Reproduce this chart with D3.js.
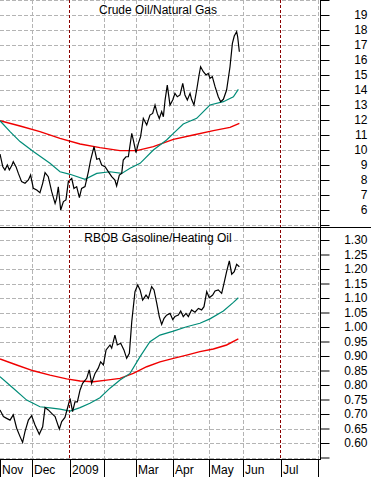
<!DOCTYPE html>
<html>
<head>
<meta charset="utf-8">
<script src="https://cdn.jsdelivr.net/npm/d3@7"></script>
<style>
body { margin: 0; background: #fff; }
svg { display: block; font-family: Arial, "Liberation Sans", sans-serif; }
</style>
</head>
<body>
<script>
// x is counted in trading days from the start of Nov 2008
var monthStarts = [0, 19, 41, 61, 80, 102, 123, 143, 165, 187];
var monthLabels = ["Nov", "Dec", "2009", "", "Mar", "Apr", "May", "Jun", "Jul", ""];
var markerDays = [41, 165];

var topTicks = [6, 7, 8, 9, 10, 11, 12, 13, 14, 15, 16, 17, 18, 19];
var bottomTicks = [0.60, 0.65, 0.70, 0.75, 0.80, 0.85, 0.90, 0.95, 1.00, 1.05, 1.10, 1.15, 1.20, 1.25, 1.30];

var crudeNatgas = [
    [0, 9.73], [1.6, 8.9], [2.9, 8.67], [4.3, 9.0], [5.5, 8.67], [6.9, 8.96], [7.8, 9.22],
    [9.4, 8.89], [10.8, 8.44], [12.7, 7.89], [14.7, 7.78], [16.7, 8.0], [18, 8.33],
    [19.6, 7.44], [21.6, 7.33], [23.5, 7.15], [25.1, 7.78], [26.5, 8.49], [28.4, 8.22],
    [30.4, 7.22], [32.4, 6.44], [33.3, 6.78], [34.3, 7.55], [35.7, 6.0], [37.3, 6.56],
    [38.8, 6.67], [40.2, 7.89], [42.2, 8.1], [43.5, 7.44], [45.1, 7.56], [46.7, 6.82],
    [48, 7.44], [50, 7.56], [52, 8.56], [53.3, 9.33], [55.3, 10.22], [56.9, 9.38],
    [58.4, 9.44], [59.8, 9.0], [61.8, 8.89], [63.7, 8.56], [65.7, 8.22], [67.6, 8.0],
    [68.6, 7.6], [70.2, 8.33], [71.6, 8.44], [72.5, 9.33], [74.1, 9.55], [75.5, 9.55],
    [77.5, 11.11], [78.4, 10.67], [80, 9.82], [81.4, 10.44], [82.7, 10.89], [84.3, 12.11],
    [86.3, 11.67], [88.2, 12.33], [89.8, 12.44], [91.2, 13.0], [92.5, 12.44], [93.7, 12.1],
    [95.1, 12.56], [96.1, 12.22], [97.1, 13.33], [98.4, 14.33], [100, 13.0], [101.6, 13.33],
    [102.9, 13.78], [104.3, 13.55], [105.9, 13.67], [107.5, 14.44], [108.8, 13.67],
    [110.2, 13.33], [111.8, 13.78], [112.7, 13.38], [114.1, 13.0], [115.7, 14.0],
    [117.1, 15.0], [118, 15.55], [119.6, 15.22], [121.2, 15.0], [122.5, 15.11],
    [123.5, 14.78], [124.9, 14.89], [126.5, 14.22], [128.4, 13.55], [129.8, 13.22],
    [131.4, 13.38], [133.3, 14.0], [135.3, 15.55], [136.7, 17.11], [137.8, 17.6],
    [139.2, 17.89], [139.8, 17.55], [140.8, 16.55]
];
var crudeNatgasAvgShort = [
    [0, 11.95], [5.9, 11.22], [11.8, 10.56], [19.6, 9.9], [29.4, 9.11], [35.3, 8.55],
    [41.2, 8.38], [50, 8.04], [56.9, 8.44], [64.7, 8.55], [71.6, 8.44], [76.5, 8.78],
    [82.4, 9.11], [90.2, 10.0], [98, 10.67], [102, 11.11], [107.8, 11.73], [115.7, 12.11],
    [123.5, 13.0], [131.4, 13.22], [137.3, 13.55], [140.2, 14.04]
];
var crudeNatgasAvgLong = [
    [0, 11.95], [11.8, 11.6], [23.5, 11.22], [35.3, 10.78], [47.1, 10.4], [58.8, 10.16],
    [70.6, 9.96], [80.4, 9.96], [90.2, 10.22], [102, 10.71], [113.7, 11.0], [125.5, 11.29],
    [135.3, 11.51], [140.8, 11.78]
];

var rbobHo = [
    [0, 0.714], [2, 0.691], [3.9, 0.685], [5.9, 0.679], [7.8, 0.697], [9.8, 0.651],
    [11.8, 0.622], [13.3, 0.602], [14.7, 0.639], [16.7, 0.679], [18.6, 0.694], [20.6, 0.662],
    [23.1, 0.630], [25.1, 0.656], [26.5, 0.722], [28.4, 0.714], [30.4, 0.702], [32.4, 0.691],
    [34.9, 0.648], [36.3, 0.674], [38.2, 0.688], [40.2, 0.731], [41.2, 0.754], [42.7, 0.708],
    [44.1, 0.742], [45.5, 0.742], [47.1, 0.783], [48.6, 0.806], [51, 0.823], [52.5, 0.852],
    [53.9, 0.806], [55.9, 0.840], [57.8, 0.858], [59.2, 0.880], [60.8, 0.869], [62.4, 0.921],
    [64.7, 0.938], [65.7, 0.927], [67.6, 0.972], [69, 0.938], [71, 0.944], [72.9, 0.921],
    [74.5, 0.892], [76.1, 0.909], [77.5, 1.018], [79.4, 1.122], [81, 1.145], [82.4, 1.128],
    [83.9, 1.093], [85.9, 1.110], [87.3, 1.099], [89.2, 1.139], [90.6, 1.128], [92.2, 1.082],
    [93.7, 1.036], [95.1, 1.009], [96.5, 1.030], [98, 1.041], [100, 1.047], [101.6, 1.026],
    [102.9, 1.036], [104.9, 1.041], [106.3, 1.055], [107.8, 1.036], [109.4, 1.047],
    [110.8, 1.036], [112.7, 1.059], [114.7, 1.051], [116.7, 1.064], [118.6, 1.059],
    [120, 1.070], [121.6, 1.122], [123.1, 1.101], [125.1, 1.110], [126.5, 1.124],
    [128.4, 1.128], [130.4, 1.116], [131.8, 1.151], [133.3, 1.191], [134.9, 1.228],
    [136.3, 1.182], [137.8, 1.191], [139.2, 1.216], [140.8, 1.208]
];
var rbobHoAvgShort = [
    [0, 0.829], [7.8, 0.789], [15.7, 0.748], [23.5, 0.725], [29.4, 0.721], [35.3, 0.717],
    [41.2, 0.710], [47.1, 0.722], [52.9, 0.737], [58.8, 0.756], [64.7, 0.789], [70.6, 0.817],
    [76.5, 0.840], [82.4, 0.898], [88.2, 0.949], [94.1, 0.972], [102, 0.986], [109.8, 1.001],
    [117.6, 1.013], [123.5, 1.028], [131.4, 1.055], [137.3, 1.085], [140.2, 1.101]
];
var rbobHoAvgLong = [
    [0, 0.890], [9.8, 0.869], [19.6, 0.849], [29.4, 0.834], [39.2, 0.821], [47.1, 0.814],
    [54.9, 0.811], [62.7, 0.817], [70.6, 0.823], [78.4, 0.840], [86.3, 0.863], [94.1, 0.880],
    [102, 0.892], [109.8, 0.903], [117.6, 0.915], [125.5, 0.924], [133.3, 0.938], [140.2, 0.959]
];

var width = 371, height = 477;
var plotRight = 320, split = 227, axisBottom = 459;

var svg = d3.select("body").append("svg")
    .attr("width", width)
    .attr("height", height);

var x = d3.scaleLinear().domain([0, 188]).range([0, 319.6]);
var yTop = d3.scaleLinear().domain([5, 20]).range([225, 0]);
var yBottom = d3.scaleLinear().domain([0.55, 1.35]).range([457.5, 225.5]);

// vertical month grid, both panels in one go
svg.append("g").selectAll("line")
    .data(monthStarts.slice(1).filter(function (d) { return markerDays.indexOf(d) < 0; }))
    .enter().append("line")
    .attr("x1", function (d) { return Math.round(x(d)) + 0.5; })
    .attr("x2", function (d) { return Math.round(x(d)) + 0.5; })
    .attr("y1", 0)
    .attr("y2", axisBottom)
    .attr("stroke", "#b4b4b4")
    .attr("stroke-dasharray", "4,2");

function drawPanel(y, gridValues, series, title, titleY) {
    var g = svg.append("g");
    g.selectAll("line.grid")
        .data(gridValues)
        .enter().append("line")
        .attr("class", "grid")
        .attr("x1", 0)
        .attr("x2", plotRight - 2)
        .attr("y1", function (d) { return Math.round(y(d)) + 0.5; })
        .attr("y2", function (d) { return Math.round(y(d)) + 0.5; })
        .attr("stroke", "#b4b4b4")
        .attr("stroke-dasharray", "4,2");

    g.append("text")
        .attr("x", 158)
        .attr("y", titleY)
        .attr("text-anchor", "middle")
        .attr("font-size", "12px")
        .attr("fill", "#000")
        .text(title);

    var line = d3.line()
        .x(function (d) { return x(d[0]); })
        .y(function (d) { return y(d[1]); });

    g.append("path").datum(series[2])
        .attr("d", line).attr("fill", "none")
        .attr("stroke", "#f00000").attr("stroke-width", 1.4);
    g.append("path").datum(series[1])
        .attr("d", line).attr("fill", "none")
        .attr("stroke", "#008c78").attr("stroke-width", 1.2);
    g.append("path").datum(series[0])
        .attr("d", line).attr("fill", "none")
        .attr("stroke", "#000").attr("stroke-width", 1.2);
}

drawPanel(yTop, d3.range(5, 21), [crudeNatgas, crudeNatgasAvgShort, crudeNatgasAvgLong],
    "Crude Oil/Natural Gas", 14);
drawPanel(yBottom, d3.range(11, 27).map(function (d) { return d * 0.05; }),
    [rbobHo, rbobHoAvgShort, rbobHoAvgLong], "RBOB Gasoline/Heating Oil", 242);

// dark red markers at the turn of the year and at July
svg.append("g").selectAll("line")
    .data(markerDays)
    .enter().append("line")
    .attr("x1", function (d) { return Math.round(x(d)) - 0.5; })
    .attr("x2", function (d) { return Math.round(x(d)) - 0.5; })
    .attr("y1", 0)
    .attr("y2", axisBottom)
    .attr("stroke", "#8b0000")
    .attr("stroke-dasharray", "3,2");

// right hand axes
function drawAxis(y, majors, minors, labels, fmt, minorLen) {
    var g = svg.append("g").attr("transform", "translate(" + (plotRight + 0.5) + ",0)");
    g.call(d3.axisRight(y).tickValues(minors).tickSize(minorLen).tickFormat(""));
    g.call(d3.axisRight(y).tickValues(majors).tickSize(9).tickFormat(""));
    g.selectAll(".domain").remove();
    g.selectAll("line").attr("stroke", "#000");
    g.selectAll("text.lbl")
        .data(labels)
        .enter().append("text")
        .attr("class", "lbl")
        .attr("x", 367 - plotRight)
        .attr("y", function (d) { return y(d); })
        .attr("dy", "0.36em")
        .attr("text-anchor", "end")
        .attr("font-size", "12px")
        .attr("fill", "#000")
        .text(fmt);
}

drawAxis(yTop, d3.range(5, 21), d3.range(5.5, 20, 1), topTicks, d3.format("d"), 5);
drawAxis(yBottom, d3.range(11, 27).map(function (d) { return d * 0.05; }),
    d3.range(55, 134).map(function (d) { return d / 100; }), bottomTicks, d3.format(".2f"), 4);

svg.append("line")
    .attr("x1", plotRight + 0.5).attr("x2", plotRight + 0.5)
    .attr("y1", 0).attr("y2", axisBottom)
    .attr("stroke", "#000");
svg.append("line")
    .attr("x1", 0).attr("x2", width)
    .attr("y1", split + 0.5).attr("y2", split + 0.5)
    .attr("stroke", "#000");

// month axis along the bottom
var xa = svg.append("g");
xa.append("line")
    .attr("x1", 0).attr("x2", plotRight + 1)
    .attr("y1", axisBottom + 0.5).attr("y2", axisBottom + 0.5)
    .attr("stroke", "#000");
xa.selectAll("line.sep")
    .data(monthStarts)
    .enter().append("line")
    .attr("class", "sep")
    .attr("x1", function (d) { return Math.round(x(d)) + 0.5; })
    .attr("x2", function (d) { return Math.round(x(d)) + 0.5; })
    .attr("y1", axisBottom)
    .attr("y2", height)
    .attr("stroke", "#000");
xa.selectAll("text")
    .data(monthStarts)
    .enter().append("text")
    .attr("x", function (d) { return Math.round(x(d)) + 2; })
    .attr("y", 474)
    .attr("font-size", "12px")
    .attr("fill", "#000")
    .text(function (d, i) { return monthLabels[i]; });
</script>
</body>
</html>
